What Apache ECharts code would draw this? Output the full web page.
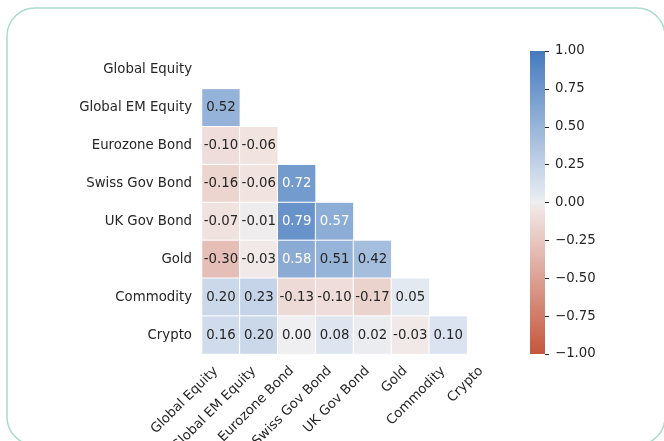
<!DOCTYPE html>
<html><head><meta charset="utf-8">
<script src="https://cdn.jsdelivr.net/npm/echarts@6/dist/echarts.min.js"></script>
<style>html,body{margin:0;padding:0;background:#fff}#c{width:664px;height:441px}</style>
</head><body><div id="c"></div>
<script>
const assets = ['Global Equity','Global EM Equity','Eurozone Bond','Swiss Gov Bond','UK Gov Bond','Gold','Commodity','Crypto'];
// lower-triangle correlations (row i, columns 0..i-1)
const rowGlobalEquity = [];
const rowGlobalEM = [0.52];
const rowEurozone = [-0.10, -0.06];
const rowSwiss = [-0.16, -0.06, 0.72];
const rowUK = [-0.07, -0.01, 0.79, 0.57];
const rowGold = [-0.30, -0.03, 0.58, 0.51, 0.42];
const rowCommodity = [0.20, 0.23, -0.13, -0.10, -0.17, 0.05];
const rowCrypto = [0.16, 0.20, 0.00, 0.08, 0.02, -0.03, 0.10];
const lowerRows = [rowGlobalEquity, rowGlobalEM, rowEurozone, rowSwiss, rowUK, rowGold, rowCommodity, rowCrypto];
const colorbarMin = -1, colorbarMax = 1, colorbarStep = 0.25;

const FONT = 'DejaVu Sans';
const TXT = '#262626';
const negEnd = [196, 86, 61], negMid = [243, 236, 235];
const posEnd = [69, 122, 190], posMid = [235, 239, 244];
function mix(a, b, t) { return a.map((x, k) => Math.round(x + (b[k] - x) * t)); }
function colorAt(v) {
  let c;
  if (v < 0) c = mix(negMid, negEnd, -v);
  else if (v > 0) c = mix(posMid, posEnd, v);
  else c = mix(negMid, posMid, 0.5);
  return c;
}
function lum(c) {
  const f = x => { x /= 255; return x <= 0.03928 ? x / 12.92 : Math.pow((x + 0.055) / 1.055, 2.4); };
  return 0.2126 * f(c[0]) + 0.7152 * f(c[1]) + 0.0722 * f(c[2]);
}
const stops = [];
for (let k = 0; k <= 40; k++) {
  const v = -1 + k * 0.05;
  const c = colorAt(Math.abs(v) < 1e-9 ? 0 : v);
  stops.push('rgb(' + c.join(',') + ')');
}
const cells = [];
lowerRows.forEach((row, i) => {
  row.forEach((v, j) => {
    const c = colorAt(v);
    cells.push({ value: [j, i, v], label: { color: lum(c) > 0.408 ? TXT : '#ffffff' } });
  });
});

const chart = echarts.init(document.getElementById('c'), null, { renderer: 'canvas' });
chart.setOption({
  animation: false,
  backgroundColor: '#ffffff',
  textStyle: { fontFamily: FONT },
  graphic: [{
    type: 'rect', silent: true,
    shape: { x: 7, y: 8, width: 658, height: 437, r: 28 },
    style: { fill: null, stroke: '#a9dccb', lineWidth: 1.5 }
  }],
  grid: [
    { left: 202, top: 51, width: 303, height: 303, containLabel: false, outerBoundsMode: 'none' },
    { left: 530, top: 51, width: 15, height: 303, containLabel: false, outerBoundsMode: 'none' }
  ],
  xAxis: [
    { type: 'category', gridIndex: 0, data: assets,
      axisLine: { show: false }, axisTick: { show: false }, splitLine: { show: false },
      axisLabel: { rotate: 45, interval: 0, margin: 10, padding: [0, 7, 0, 0], fontSize: 13.3, color: TXT, fontFamily: FONT } },
    { type: 'value', gridIndex: 1, show: false, min: 0, max: 1,
      axisLine: { show: false }, axisTick: { show: false }, axisLabel: { show: false }, splitLine: { show: false } }
  ],
  yAxis: [
    { type: 'category', gridIndex: 0, data: assets, inverse: true,
      axisLine: { show: false }, axisTick: { show: false }, splitLine: { show: false },
      axisLabel: { interval: 0, margin: 10, fontSize: 13.3, color: TXT, fontFamily: FONT } },
    { type: 'value', gridIndex: 1, position: 'right', min: colorbarMin, max: colorbarMax, interval: colorbarStep,
      axisLine: { show: false, onZero: false }, splitLine: { show: false }, minorTick: { show: false },
      axisTick: { show: true, length: 4, lineStyle: { color: TXT, width: 1 } },
      axisLabel: { margin: 10, fontSize: 13.3, color: TXT, fontFamily: FONT,
        formatter: v => (v < 0 ? '\u2212' : '') + Math.abs(v).toFixed(2) } }
  ],
  visualMap: {
    type: 'continuous', min: colorbarMin, max: colorbarMax, seriesIndex: 0,
    show: false, inRange: { color: stops }
  },
  series: [
    { type: 'heatmap', xAxisIndex: 0, yAxisIndex: 0, data: cells,
      itemStyle: { borderColor: '#ffffff', borderWidth: 1 },
      label: { show: true, fontSize: 13.3, fontFamily: FONT, formatter: p => p.value[2].toFixed(2) },
      emphasis: { disabled: true } },
    { type: 'custom', xAxisIndex: 1, yAxisIndex: 1, silent: true, clip: false,
      data: [[0, colorbarMin, 1, colorbarMax]],
      renderItem: (params, api) => {
        const p0 = api.coord([api.value(0), api.value(1)]);
        const p1 = api.coord([api.value(2), api.value(3)]);
        return {
          type: 'rect',
          shape: { x: p0[0], y: p1[1], width: p1[0] - p0[0], height: p0[1] - p1[1] },
          style: { fill: new echarts.graphic.LinearGradient(0, 1, 0, 0,
            stops.map((c, k) => ({ offset: k / (stops.length - 1), color: c }))) }
        };
      } }
  ]
});
</script>
</body></html>
